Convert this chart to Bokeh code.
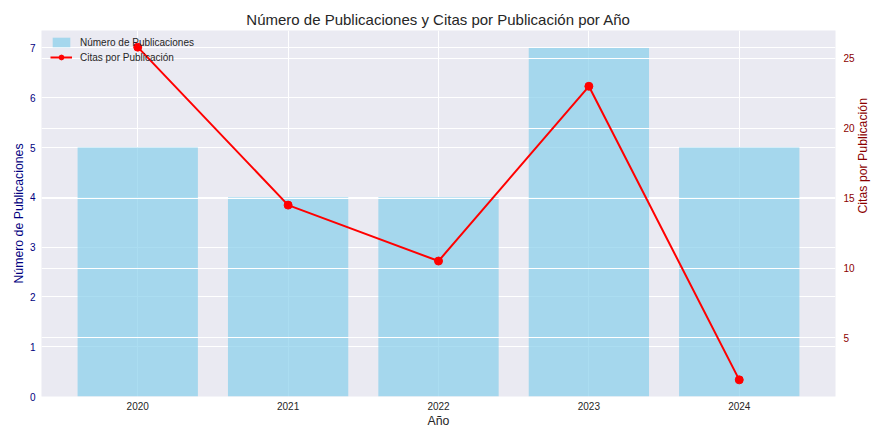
import math
from bokeh.plotting import figure
from bokeh.models import Range1d, LinearAxis, FixedTicker, Grid, ColumnDataSource
from bokeh.embed import file_html
from bokeh.resources import INLINE

# Data
anios = [2020, 2021, 2022, 2023, 2024]
publicaciones = [5, 4, 4, 7, 5]
citas = [25.8, 14.5, 10.5, 23.0, 2.0]
anio_ticks = [2020, 2021, 2022, 2023, 2024]
pub_ticks = [0, 1, 2, 3, 4, 5, 6, 7]
citas_ticks = [5, 10, 15, 20, 25]

FONT = "Liberation Sans"
TXT = "#262626"

src = ColumnDataSource(dict(x=anios, pub=publicaciones, cit=citas))

p = figure(width=883, height=442, output_backend="svg", toolbar_location=None,
           x_range=Range1d(2019.36, 2024.64), y_range=Range1d(0, 7.35),
           min_border_left=41, min_border_right=48, min_border_top=30, min_border_bottom=46)

p.background_fill_color = "#EAEAF2"
p.border_fill_color = "white"
p.outline_line_color = None

p.title.text = "Número de Publicaciones y Citas por Publicación por Año"
p.title.align = "center"
p.title.text_font = FONT
p.title.text_font_size = "15px"
p.title.text_font_style = "normal"
p.title.text_color = TXT
p.title.standoff = 6

p.extra_y_ranges = {"right": Range1d(0.81, 26.99)}

# left grid + x grid below bars
p.xgrid.ticker = FixedTicker(ticks=anio_ticks)
p.ygrid.ticker = FixedTicker(ticks=pub_ticks)
for g in (p.xgrid, p.ygrid):
    g.grid_line_color = "white"
    g.grid_line_width = 1
    g.level = "image"

bars = p.vbar(x="x", top="pub", width=0.8, source=src, color="skyblue", alpha=0.7,
              line_color=None, legend_label="Número de Publicaciones")
bars.level = "underlay"

# right axis grid above bars
rgrid = Grid(dimension=1, ticker=FixedTicker(ticks=citas_ticks), y_range_name="right",
             grid_line_color="white", grid_line_width=1, level="glyph")
p.add_layout(rgrid)

ln = p.line(x="x", y="cit", source=src, y_range_name="right", color="red", line_width=2,
            legend_label="Citas por Publicación")
ln.level = "guide"
sc = p.scatter(x="x", y="cit", source=src, y_range_name="right", color="red", size=8,
               legend_label="Citas por Publicación")
sc.level = "guide"

# axes
xa = p.xaxis[0]
xa.ticker = FixedTicker(ticks=anio_ticks)
xa.axis_label = "Año"
ya = p.yaxis[0]
ya.ticker = FixedTicker(ticks=pub_ticks)
ya.axis_label = "Número de Publicaciones"

ra = LinearAxis(y_range_name="right", ticker=FixedTicker(ticks=citas_ticks),
                axis_label="Citas por Publicación")
ra.axis_label_orientation = math.pi / 2
p.add_layout(ra, "right")

for ax in (xa, ya, ra):
    ax.axis_line_color = None
    ax.major_tick_line_color = None
    ax.minor_tick_line_color = None
    ax.major_tick_out = 0
    ax.major_tick_in = 0
    ax.major_label_text_font = FONT
    ax.major_label_text_font_size = "10px"
    ax.axis_label_text_font = FONT
    ax.axis_label_text_font_size = "12.3px"
    ax.axis_label_text_font_style = "normal"

xa.major_label_text_color = TXT
xa.axis_label_text_color = TXT
xa.major_label_standoff = 5
xa.axis_label_standoff = 1

ya.major_label_text_color = "navy"
ya.axis_label_text_color = "navy"
ya.major_label_standoff = 6
ya.axis_label_standoff = 1

ra.major_label_text_color = "darkred"
ra.axis_label_text_color = "darkred"
ra.major_label_standoff = 8
ra.axis_label_standoff = 5

lg = p.legend[0]
lg.location = (5, 329)
lg.background_fill_alpha = 0
lg.border_line_alpha = 0
lg.label_text_font = FONT
lg.label_text_font_size = "10px"
lg.label_text_color = TXT
lg.margin = 0
lg.padding = 4
lg.spacing = 3
lg.glyph_width = 22
lg.glyph_height = 12
lg.label_height = 12
lg.label_standoff = 8

open("out.html", "w").write(file_html(p, INLINE))
